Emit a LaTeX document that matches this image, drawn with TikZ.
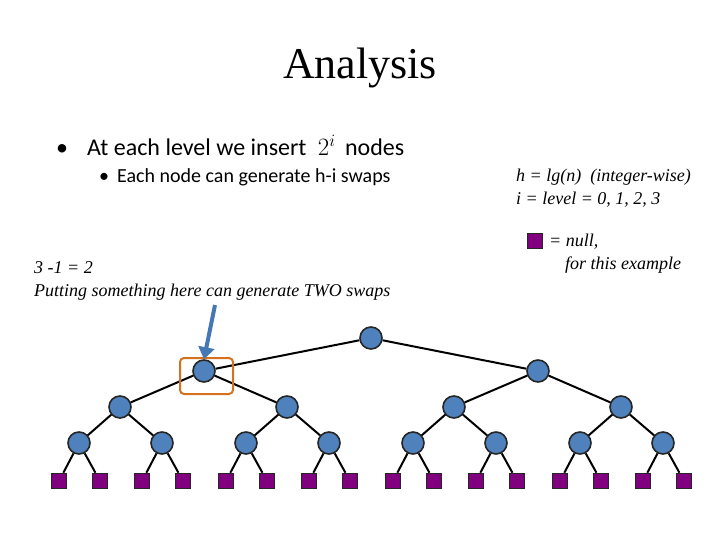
\documentclass[tikz,border=0pt]{standalone}
\usepackage{fontspec}
\usetikzlibrary{arrows.meta}
\setmainfont{Liberation Serif}
\newfontfamily\calfont{Carlito}
\definecolor{nodeblue}{RGB}{79,129,189}
\definecolor{nullpurple}{RGB}{128,0,128}
\definecolor{hlorange}{RGB}{214,114,30}
\definecolor{arrblue}{RGB}{70,120,180}
\begin{document}
\begin{tikzpicture}[x=1pt,y=-1pt,
  tn/.style={circle,draw=black!85,line width=1.6pt,fill=nodeblue,minimum size=22pt,inner sep=0pt},
  nl/.style={rectangle,draw=black!85,line width=1.6pt,fill=nullpurple,minimum size=15pt,inner sep=0pt},
  ed/.style={line width=2pt,black},
  itxt/.style={anchor=west,align=left,inner sep=0pt,font=\fontsize{18}{23}\selectfont\itshape}]
\useasboundingbox (0,0) rectangle (720,540);
\node (title) at (360,68) {\fontsize{44}{50}\selectfont Analysis};
\node[anchor=west,inner sep=0pt] (bl1) at (56,145) {\calfont\fontsize{24}{26}\selectfont •\hspace{19pt}At each level we insert \hspace{6pt}{\rmfamily$2^i$}\hspace{4pt} nodes};
\node[anchor=west,inner sep=0pt] (bl2) at (99,177) {\calfont\fontsize{20}{22}\selectfont •\hspace{8pt}Each node can generate h-i swaps};
\node[itxt] (info) at (516,188) {h = lg(n)\ \ (integer-wise)\\ i = level = 0, 1, 2, 3};
\node[nl] (leg) at (535,241) {};
\node[itxt] (legt) at (549,254) {= null,\\ \hspace{16pt}for this example};
\node[itxt] (note) at (34,281) {3 -1 = 2\\ Putting something here can generate TWO swaps};
% tree
\node[tn] (r) at (371,338) {};
\node[tn] (a1) at (204,371) {};
\node[tn] (a2) at (538,371) {};
\foreach \x [count=\i] in {120,287,454,621} \node[tn] (b\i) at (\x,407) {};
\foreach \x [count=\i] in {79,162,246,329,413,496,580,663} \node[tn] (c\i) at (\x,443) {};
\foreach \x [count=\i] in {59,100,142,183,226,267,309,350,393,434,476,517,560,601,643,684} \node[nl] (d\i) at (\x,481) {};
\draw[ed] (r) -- (a1); \draw[ed] (r) -- (a2);
\draw[ed] (a1) -- (b1); \draw[ed] (a1) -- (b2);
\draw[ed] (a2) -- (b3); \draw[ed] (a2) -- (b4);
\foreach \p/\q in {1/1,1/2,2/3,2/4,3/5,3/6,4/7,4/8} \draw[ed] (b\p) -- (c\q);
\foreach \q in {1,...,8} {
  \pgfmathtruncatemacro{\la}{2*\q-1}
  \pgfmathtruncatemacro{\lb}{2*\q}
  \draw[ed] (c\q) -- (d\la); \draw[ed] (c\q) -- (d\lb);
}
\node[draw=hlorange,line width=2pt,rounded corners=4pt,minimum width=53pt,minimum height=36pt] (hl) at (206.5,376) {};
\coordinate (as) at (215,305);
\draw[line width=4pt,arrblue,-{Triangle[length=12pt,width=16pt]}] (as) -- (a1.north);
\end{tikzpicture}
\end{document}
